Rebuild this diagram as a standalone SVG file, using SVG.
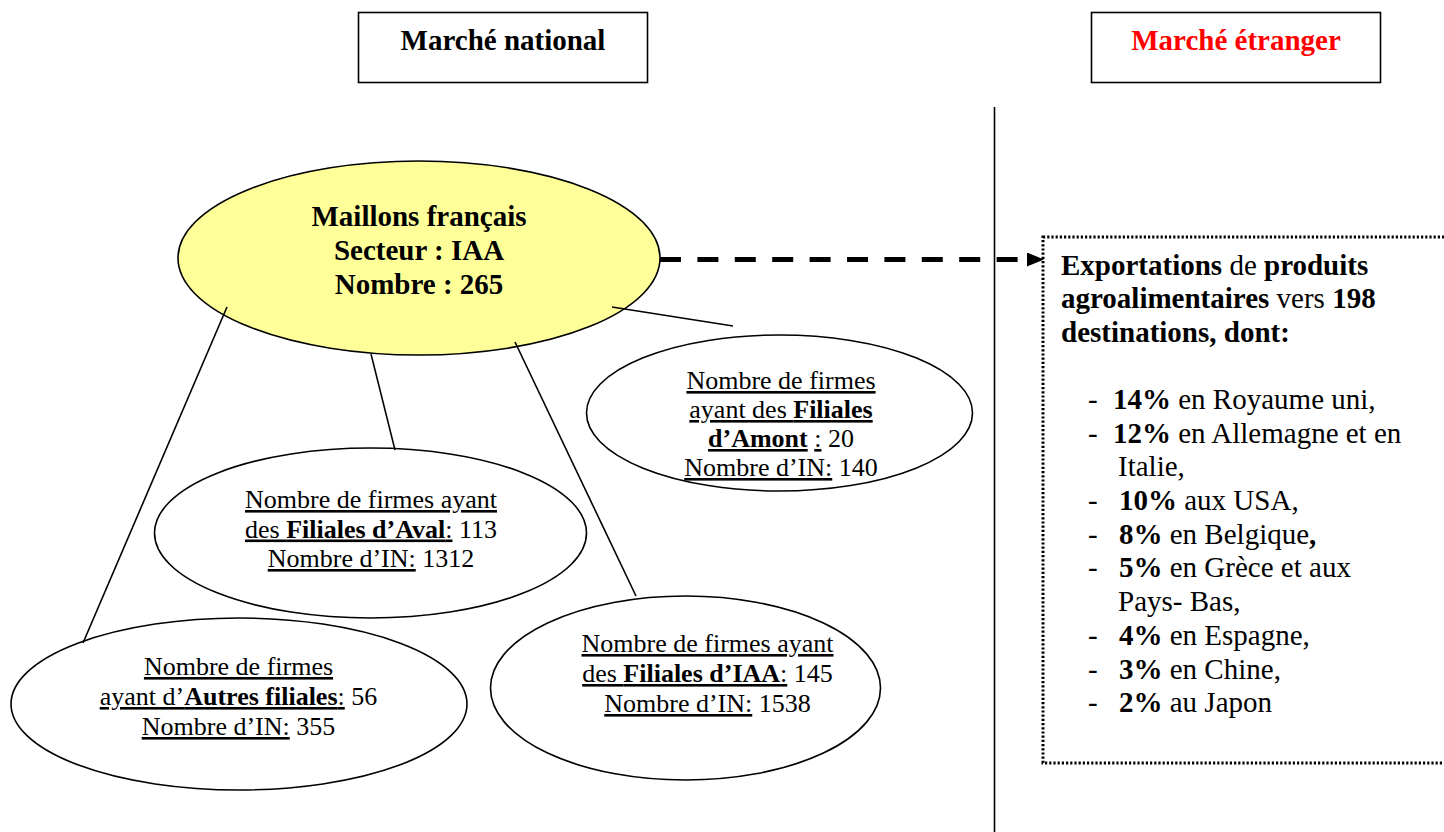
<svg xmlns="http://www.w3.org/2000/svg" width="1444" height="832" viewBox="0 0 1444 832">
  <defs>
    <style>
      text { font-family: 'Liberation Serif', 'Tinos', 'Times New Roman', 'DejaVu Serif', serif; fill: #000; }
      .head { font-size: 29px; font-weight: bold; text-anchor: middle; }
      .main { font-size: 29px; font-weight: bold; text-anchor: middle; }
      .node { font-size: 26px; text-anchor: middle; }
      .exp { font-size: 29px; }
      .b { font-weight: bold; }
      .u { text-decoration: underline; }
      .box { fill: #fff; stroke: #000; stroke-width: 1.6; }
      .ell { fill: #fff; stroke: #000; stroke-width: 1.6; }
      .link { stroke: #000; stroke-width: 1.6; fill: none; }
    </style>
    <marker id="arrowHead" markerUnits="userSpaceOnUse" markerWidth="18" markerHeight="16" refX="0" refY="7" orient="auto">
      <path d="M0,0 L17,7 L0,14 Z" fill="#000"/>
    </marker>
  </defs>

  <rect width="1444" height="832" fill="#fff"/>

  <!-- column headers -->
  <g id="header-national">
    <rect class="box" x="358.5" y="12.5" width="289" height="70"/>
    <text class="head" x="503" y="50">Marché national</text>
  </g>
  <g id="header-foreign">
    <rect class="box" x="1091.5" y="12.5" width="289" height="70"/>
    <text class="head" x="1236" y="50" style="fill:#FF0000">Marché étranger</text>
  </g>

  <!-- divider between the two markets -->
  <line x1="994.5" y1="107" x2="994.5" y2="832" stroke="#000" stroke-width="1.6"/>

  <!-- central node -->
  <g id="node-maillons">
    <ellipse cx="419" cy="258" rx="241" ry="97" fill="#FFFF99" stroke="#000" stroke-width="1.6"/>
    <text class="main" x="419" y="226">Maillons français</text>
    <text class="main" x="419" y="260">Secteur : IAA</text>
    <text class="main" x="419" y="294">Nombre : 265</text>
  </g>

  <g id="node-amont">
    <ellipse class="ell" cx="779.5" cy="413" rx="193" ry="78"/>
    <text class="node" x="781" y="389"><tspan class="u">Nombre de firmes</tspan></text>
    <text class="node" x="781" y="418"><tspan class="u">ayant des </tspan><tspan class="u b">Filiales</tspan></text>
    <text class="node" x="781" y="447"><tspan class="u b">d’Amont</tspan> <tspan class="u">:</tspan> 20</text>
    <text class="node" x="781" y="476"><tspan class="u">Nombre d’IN:</tspan> 140</text>
  </g>

  <g id="node-aval">
    <ellipse class="ell" cx="370.5" cy="533" rx="216" ry="85"/>
    <text class="node" x="371" y="508"><tspan class="u">Nombre de firmes ayant</tspan></text>
    <text class="node" x="371" y="537.5"><tspan class="u">des </tspan><tspan class="u b">Filiales d’Aval</tspan><tspan class="u">:</tspan> 113</text>
    <text class="node" x="371" y="567"><tspan class="u">Nombre d’IN:</tspan> 1312</text>
  </g>

  <g id="node-iaa">
    <ellipse class="ell" cx="685.5" cy="688" rx="195" ry="92"/>
    <text class="node" x="707.5" y="652"><tspan class="u">Nombre de firmes ayant</tspan></text>
    <text class="node" x="707.5" y="682"><tspan class="u">des </tspan><tspan class="u b">Filiales d’IAA</tspan><tspan class="u">:</tspan> 145</text>
    <text class="node" x="707.5" y="712"><tspan class="u">Nombre d’IN:</tspan> 1538</text>
  </g>

  <g id="node-autres">
    <ellipse class="ell" cx="239" cy="704" rx="228" ry="86"/>
    <text class="node" x="238.5" y="675"><tspan class="u">Nombre de firmes</tspan></text>
    <text class="node" x="238.5" y="705"><tspan class="u">ayant d’</tspan><tspan class="u b">Autres filiales</tspan><tspan class="u">:</tspan> 56</text>
    <text class="node" x="238.5" y="735"><tspan class="u">Nombre d’IN:</tspan> 355</text>
  </g>

  <!-- export destinations -->
  <g id="node-exports">
    <rect x="1043" y="237" width="430" height="526" fill="none" stroke="#000" stroke-width="3" stroke-dasharray="2.2 2"/>
    <text class="exp" x="1061" y="275"><tspan class="b">Exportations</tspan> de <tspan class="b">produits</tspan></text>
    <text class="exp" x="1061" y="308"><tspan class="b">agroalimentaires</tspan> vers <tspan class="b">198</tspan></text>
    <text class="exp" x="1061" y="342"><tspan class="b">destinations, dont:</tspan></text>

    <text class="exp" x="1088" y="409">-</text>
    <text class="exp" x="1113" y="409"><tspan class="b">14%</tspan> en Royaume uni,</text>
    <text class="exp" x="1088" y="442.5">-</text>
    <text class="exp" x="1113" y="442.5"><tspan class="b">12%</tspan> en Allemagne et en</text>
    <text class="exp" x="1118" y="476">Italie,</text>
    <text class="exp" x="1088" y="510">-</text>
    <text class="exp" x="1119" y="510"><tspan class="b">10%</tspan> aux USA,</text>
    <text class="exp" x="1088" y="543.5">-</text>
    <text class="exp" x="1119" y="543.5"><tspan class="b">8%</tspan> en Belgique<tspan class="b">,</tspan></text>
    <text class="exp" x="1088" y="577">-</text>
    <text class="exp" x="1119" y="577"><tspan class="b">5%</tspan> en Grèce et aux</text>
    <text class="exp" x="1118" y="611">Pays- Bas,</text>
    <text class="exp" x="1088" y="645">-</text>
    <text class="exp" x="1119" y="645"><tspan class="b">4%</tspan> en Espagne,</text>
    <text class="exp" x="1088" y="678.5">-</text>
    <text class="exp" x="1119" y="678.5"><tspan class="b">3%</tspan> en Chine,</text>
    <text class="exp" x="1088" y="712">-</text>
    <text class="exp" x="1119" y="712"><tspan class="b">2%</tspan> au Japon</text>
  </g>

  <!-- connectors -->
  <g id="connectors">
    <line class="link" x1="227" y1="307" x2="83" y2="643"/>
    <line class="link" x1="371" y1="354" x2="395" y2="450"/>
    <line class="link" x1="515" y1="342" x2="636" y2="596"/>
    <line class="link" x1="612" y1="307" x2="733" y2="326"/>
    <line x1="660" y1="259.5" x2="1027" y2="259.5" stroke="#000" stroke-width="5" stroke-dasharray="21 16.4" marker-end="url(#arrowHead)"/>
  </g>
</svg>
